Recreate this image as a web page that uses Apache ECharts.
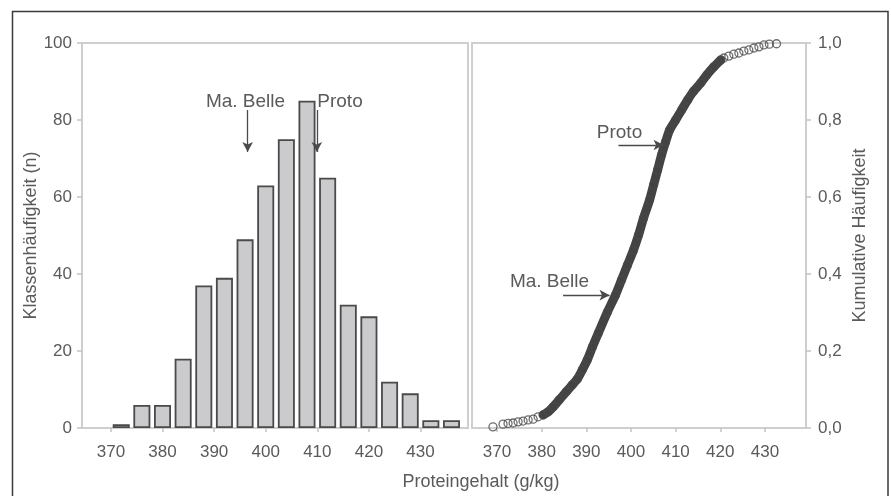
<!DOCTYPE html>
<html>
<head>
<meta charset="utf-8">
<script src="https://cdn.jsdelivr.net/npm/echarts@6/dist/echarts.min.js"></script>
<style>
html,body{margin:0;padding:0;background:#fff;}
#chart{width:891px;height:496px;}
</style>
</head>
<body>
<div id="chart"></div>
<script>
// ---- data ----
const binCenters = [372,376,380,384,388,392,396,400,404,408,412,416,420,424,428,432,436];
const binCounts  = [1,6,6,18,37,39,49,63,75,85,65,32,29,12,9,2,2];

const cumX = [369.1,371.35,372.47,373.60,374.72,375.84,376.97,378.09,379.21,380.34,
              381.46,382.58,383.93,385.51,386.85,387.98,389.10,390.22,391.35,392.70,
              394.72,396.52,397.87,399.21,400.56,401.69,402.81,404.16,405.06,405.96,
              406.85,407.75,408.65,410.00,411.35,412.70,414.04,415.62,416.97,418.54,
              420.11,420.80,421.91,423.03,424.16,425.28,426.40,427.53,428.65,429.78,431.0,432.6];
const cumY = [0.003,0.010,0.012,0.013,0.016,0.018,0.021,0.023,0.029,0.034,
              0.042,0.055,0.073,0.094,0.112,0.127,0.151,0.177,0.210,0.247,
              0.301,0.345,0.384,0.423,0.462,0.501,0.545,0.592,0.631,0.670,
              0.709,0.743,0.774,0.800,0.826,0.852,0.875,0.896,0.917,0.938,
              0.956,0.961,0.966,0.971,0.974,0.979,0.982,0.987,0.990,0.995,0.997,0.998];

const xTicks = [370,380,390,400,410,420,430];
const yRightTicks = ['0,0','0,2','0,4','0,6','0,8','1,0'];

const xName = 'Proteingehalt (g/kg)';
const yLeftName = 'Klassenhäufigkeit (n)';
const yRightName = 'Kumulative Häufigkeit';

// ---- build ----
const barData = binCenters.map((c,i)=>[c, binCounts[i]]);
const cumData = cumX.map((x,i)=>[x, cumY[i]]);
const bandData = cumData.filter(p => p[0] >= 380.3 && p[0] <= 420.2);

const FONT = '"Liberation Sans", Arial, sans-serif';
const TXT = '#5a5a5a';
const FRAME = '#cfcfcf';

const chart = echarts.init(document.getElementById('chart'), null, {renderer:'canvas'});

function xAxisFor(gi){
  return {
    type:'value', gridIndex:gi, min:364.4, max:439.2,
    axisLine:{show:false},
    splitLine:{show:false},
    axisTick:{show:true, customValues:xTicks, length:4, lineStyle:{color:'#c4c4c4', width:1.5}},
    axisLabel:{customValues:xTicks, margin:16, color:TXT, fontSize:17, fontFamily:FONT}
  };
}

const option = {
  animation:false,
  backgroundColor:'#ffffff',
  grid:[
    {left:82, top:43, width:386, height:385, show:true, borderColor:FRAME, borderWidth:2, backgroundColor:'transparent'},
    {left:472, top:43, width:334, height:385, show:true, borderColor:FRAME, borderWidth:2, backgroundColor:'transparent'}
  ],
  xAxis:[xAxisFor(0), xAxisFor(1)],
  yAxis:[
    {type:'value', gridIndex:0, min:0, max:100, interval:20, position:'left',
     axisLine:{show:false}, splitLine:{show:false},
     axisTick:{show:true, length:5, lineStyle:{color:'#c4c4c4', width:1.5}},
     axisLabel:{margin:10, color:TXT, fontSize:17, fontFamily:FONT},
     name:yLeftName, nameLocation:'middle', nameRotate:90, nameGap:42,
     nameTextStyle:{color:TXT, fontSize:18, fontFamily:FONT}},
    {type:'value', gridIndex:1, min:0, max:1, interval:0.2, position:'right',
     axisLine:{show:false}, splitLine:{show:false},
     axisTick:{show:true, length:5, lineStyle:{color:'#c4c4c4', width:1.5}},
     axisLabel:{margin:12, color:TXT, fontSize:17, fontFamily:FONT,
       formatter:(v)=>yRightTicks[Math.round(v*5)]},
     name:yRightName, nameLocation:'middle', nameRotate:90, nameGap:45,
     nameTextStyle:{color:TXT, fontSize:18, fontFamily:FONT}}
  ],
  series:[
    {type:'bar', xAxisIndex:0, yAxisIndex:0, data:barData, barWidth:17,
     itemStyle:{color:'#cbcbcd', borderColor:'#4a4a4a', borderWidth:1.8},
     silent:true,
     markLine:{silent:true, symbol:['none','arrow'], symbolSize:[8,10],
       lineStyle:{color:'#4a4a4a', width:1.3, type:'solid'}, label:{show:false},
       data:[
         [{coord:[396.5,82.6]},{coord:[396.5,71.7]}],
         [{coord:[409.9,82.6]},{coord:[409.9,71.7]}]
       ]}
    },
    {type:'line', xAxisIndex:1, yAxisIndex:1, data:bandData, smooth:0.25,
     showSymbol:false, lineStyle:{color:'#434343', width:9, cap:'round', join:'round'}, silent:true, z:2},
    {type:'scatter', xAxisIndex:1, yAxisIndex:1, data:cumData, symbol:'circle', symbolSize:8,
     itemStyle:{color:'rgba(255,255,255,0)', borderColor:'#4a4a4a', borderWidth:1.3}, silent:true, z:3,
     markLine:{silent:true, symbol:['none','arrow'], symbolSize:[8,10],
       lineStyle:{color:'#4a4a4a', width:1.3, type:'solid'}, label:{show:false},
       data:[
         [{coord:[397.2,0.735]},{coord:[407.3,0.735]}],
         [{coord:[384.8,0.345]},{coord:[395.2,0.345]}]
       ]}
    }
  ],
  graphic:[
    {type:'rect', shape:{x:12.5, y:11.5, width:875.5, height:520}, style:{fill:'none', stroke:'#3a3a3a', lineWidth:1.5}, silent:true},
    {type:'text', x:481, y:482, style:{text:xName, fill:TXT, font:'18px '+FONT, align:'center', verticalAlign:'middle'}},
    {type:'text', x:245.5, y:102, style:{text:'Ma. Belle', fill:TXT, font:'19px '+FONT, align:'center', verticalAlign:'middle'}},
    {type:'text', x:340, y:102, style:{text:'Proto', fill:TXT, font:'19px '+FONT, align:'center', verticalAlign:'middle'}},
    {type:'text', x:619.5, y:133, style:{text:'Proto', fill:TXT, font:'19px '+FONT, align:'center', verticalAlign:'middle'}},
    {type:'text', x:549.5, y:282, style:{text:'Ma. Belle', fill:TXT, font:'19px '+FONT, align:'center', verticalAlign:'middle'}}
  ]
};
chart.setOption(option);
</script>
</body>
</html>
